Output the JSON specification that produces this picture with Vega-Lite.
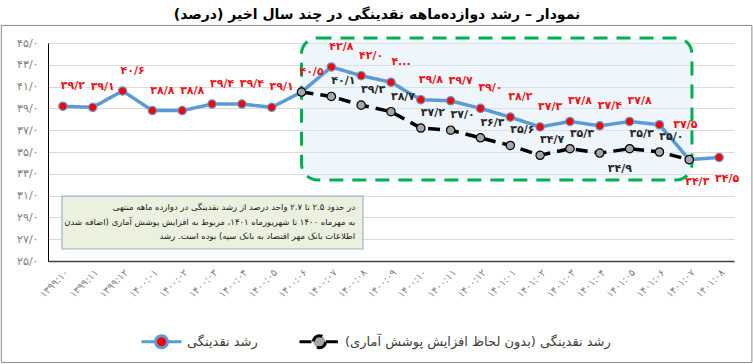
{
  "$schema": "https://vega.github.io/schema/vega-lite/v6.json",
  "width": 686,
  "height": 218,
  "autosize": "none",
  "padding": {"left": 48, "top": 43, "right": 19, "bottom": 103},
  "background": "white",
  "title": {
    "text": "نمودار – رشد دوازده‌ماهه نقدینگی در چند سال اخیر (درصد)‏",
    "font": "DejaVu Sans",
    "fontSize": 14,
    "fontWeight": "bold",
    "color": "#000000",
    "anchor": "middle",
    "frame": "group",
    "baseline": "bottom",
    "offset": 5,
    "dx": -14,
    "dy": 16
  },
  "config": {
    "view": {"stroke": null},
    "font": "DejaVu Sans",
    "axis": {"labelFont": "DejaVu Sans", "titleFont": "DejaVu Sans", "labelOverlap": false, "labelFlush": false},
    "legend": {"labelFont": "DejaVu Sans", "padding": 0}
  },
  "data": {
    "values": [
      {"m": 1, "s": "رشد نقدینگی", "v": 39.2, "t": "۳۹/۲"},
      {"m": 2, "s": "رشد نقدینگی", "v": 39.1, "t": "۳۹/۱"},
      {"m": 3, "s": "رشد نقدینگی", "v": 40.6, "t": "۴۰/۶"},
      {"m": 4, "s": "رشد نقدینگی", "v": 38.8, "t": "۳۸/۸"},
      {"m": 5, "s": "رشد نقدینگی", "v": 38.8, "t": "۳۸/۸"},
      {"m": 6, "s": "رشد نقدینگی", "v": 39.4, "t": "۳۹/۴"},
      {"m": 7, "s": "رشد نقدینگی", "v": 39.4, "t": "۳۹/۴"},
      {"m": 8, "s": "رشد نقدینگی", "v": 39.1, "t": "۳۹/۱"},
      {"m": 9, "s": "رشد نقدینگی", "v": 40.5, "t": "۴۰/۵"},
      {"m": 10, "s": "رشد نقدینگی", "v": 42.8, "t": "۴۲/۸"},
      {"m": 11, "s": "رشد نقدینگی", "v": 42.0, "t": "۴۲/۰"},
      {"m": 12, "s": "رشد نقدینگی", "v": 41.4, "t": "۴..."},
      {"m": 13, "s": "رشد نقدینگی", "v": 39.8, "t": "۳۹/۸"},
      {"m": 14, "s": "رشد نقدینگی", "v": 39.7, "t": "۳۹/۷"},
      {"m": 15, "s": "رشد نقدینگی", "v": 39.0, "t": "۳۹/۰"},
      {"m": 16, "s": "رشد نقدینگی", "v": 38.2, "t": "۳۸/۲"},
      {"m": 17, "s": "رشد نقدینگی", "v": 37.3, "t": "۳۷/۳"},
      {"m": 18, "s": "رشد نقدینگی", "v": 37.8, "t": "۳۷/۸"},
      {"m": 19, "s": "رشد نقدینگی", "v": 37.4, "t": "۳۷/۴"},
      {"m": 20, "s": "رشد نقدینگی", "v": 37.8, "t": "۳۷/۸"},
      {"m": 21, "s": "رشد نقدینگی", "v": 37.5, "t": "۳۷/۵"},
      {"m": 22, "s": "رشد نقدینگی", "v": 34.3, "t": "۳۴/۳"},
      {"m": 23, "s": "رشد نقدینگی", "v": 34.5, "t": "۳۴/۵"},
      {"m": 9, "s": "رشد نقدینگی (بدون لحاظ افزایش پوشش آماری)", "v": 40.5, "t": ""},
      {"m": 10, "s": "رشد نقدینگی (بدون لحاظ افزایش پوشش آماری)", "v": 40.1, "t": "۴۰/۱"},
      {"m": 11, "s": "رشد نقدینگی (بدون لحاظ افزایش پوشش آماری)", "v": 39.3, "t": "۳۹/۳"},
      {"m": 12, "s": "رشد نقدینگی (بدون لحاظ افزایش پوشش آماری)", "v": 38.7, "t": "۳۸/۷"},
      {"m": 13, "s": "رشد نقدینگی (بدون لحاظ افزایش پوشش آماری)", "v": 37.2, "t": "۳۷/۲"},
      {"m": 14, "s": "رشد نقدینگی (بدون لحاظ افزایش پوشش آماری)", "v": 37.0, "t": "۳۷/۰"},
      {"m": 15, "s": "رشد نقدینگی (بدون لحاظ افزایش پوشش آماری)", "v": 36.3, "t": "۳۶/۳"},
      {"m": 16, "s": "رشد نقدینگی (بدون لحاظ افزایش پوشش آماری)", "v": 35.6, "t": "۳۵/۶"},
      {"m": 17, "s": "رشد نقدینگی (بدون لحاظ افزایش پوشش آماری)", "v": 34.7, "t": "۳۴/۷"},
      {"m": 18, "s": "رشد نقدینگی (بدون لحاظ افزایش پوشش آماری)", "v": 35.3, "t": "۳۵/۳"},
      {"m": 19, "s": "رشد نقدینگی (بدون لحاظ افزایش پوشش آماری)", "v": 34.9, "t": "۳۴/۹"},
      {"m": 20, "s": "رشد نقدینگی (بدون لحاظ افزایش پوشش آماری)", "v": 35.3, "t": "۳۵/۳"},
      {"m": 21, "s": "رشد نقدینگی (بدون لحاظ افزایش پوشش آماری)", "v": 35.0, "t": "۳۵/۰"},
      {"m": 22, "s": "رشد نقدینگی (بدون لحاظ افزایش پوشش آماری)", "v": 34.3, "t": ""}
    ]
  },
  "layer": [
    {
      "data": {"values": [{}]},
      "mark": {"type": "rect", "fill": null, "stroke": "#8c8c8c", "strokeWidth": 1},
      "encoding": {
        "x": {"datum": -1.064, "type": "quantitative", "scale": {"domain": [0.5, 23.5], "nice": false, "zero": false}},
        "x2": {"datum": 24.1},
        "y": {"datum": 46.61, "type": "quantitative", "scale": {"domain": [25, 45], "nice": false, "zero": false}},
        "y2": {"datum": 15.69}
      }
    },
    {
      "data": {"values": [{}]},
      "mark": {"type": "rect", "fill": "#DCEAF7", "fillOpacity": 0.45, "stroke": "#00B050", "strokeWidth": 3, "strokeDash": [14, 9], "cornerRadius": 16},
      "encoding": {
        "x": {"datum": 9.0, "type": "quantitative"},
        "x2": {"datum": 22.09},
        "y": {"datum": 45.46, "type": "quantitative"},
        "y2": {"datum": 32.43}
      }
    },
    {
      "data": {"values": [{}]},
      "mark": {"type": "rect", "fill": "#EBF1DE", "stroke": "#9FB2C4", "strokeWidth": 1.2},
      "encoding": {
        "x": {"datum": 0.97, "type": "quantitative"},
        "x2": {"datum": 11.06},
        "y": {"datum": 30.96, "type": "quantitative"},
        "y2": {"datum": 26.1}
      }
    },
    {
      "data": {"values": [{}]},
      "mark": {"type": "text", "font": "DejaVu Sans", "fontSize": 8.5, "lineHeight": 14.5, "color": "#1a1a1a", "align": "right", "baseline": "middle"},
      "encoding": {
        "x": {"datum": 10.8, "type": "quantitative"},
        "y": {"datum": 29.95, "type": "quantitative"},
        "text": {"value": [
          "در حدود ۲.۵ تا ۲.۷ واحد درصد از رشد نقدینگی در دوازده ماهه منتهی‏",
          "به مهرماه ۱۴۰۰ تا شهریورماه ۱۴۰۱، مربوط به افزایش پوشش آماری (اضافه شدن‏",
          "اطلاعات بانک مهر اقتصاد به بانک سپه) بوده است. رشد‏"
        ]}
      }
    },
    {
      "mark": {"type": "line", "strokeWidth": 3.5},
      "encoding": {
        "x": {
          "field": "m", "type": "quantitative",
          "axis": {
            "values": [1,2,3,4,5,6,7,8,9,10,11,12,13,14,15,16,17,18,19,20,21,22,23],
            "tickCount": 23,
            "labelExpr": "['۱۳۹۹:۱۰','۱۳۹۹:۱۱','۱۳۹۹:۱۲','۱۴۰۰:۰۱','۱۴۰۰:۰۲','۱۴۰۰:۰۳','۱۴۰۰:۰۴','۱۴۰۰:۰۵','۱۴۰۰:۰۶','۱۴۰۰:۰۷','۱۴۰۰:۰۸','۱۴۰۰:۰۹','۱۴۰۰:۱۰','۱۴۰۰:۱۱','۱۴۰۰:۱۲','۱۴۰۱:۰۱','۱۴۰۱:۰۲','۱۴۰۱:۰۳','۱۴۰۱:۰۴','۱۴۰۱:۰۵','۱۴۰۱:۰۶','۱۴۰۱:۰۷','۱۴۰۱:۰۸'][round(datum.value) - 1]",
            "title": null, "grid": false, "ticks": false,
            "domainColor": "#404040", "domainWidth": 1.5,
            "labelAngle": -45, "labelAlign": "right", "labelBaseline": "top",
            "labelPadding": 6, "labelFontSize": 10, "labelColor": "#808080", "labelOverlap": false
          }
        },
        "y": {
          "field": "v", "type": "quantitative",
          "axis": {
            "values": [25,27,29,31,33,35,37,39,41,43,45],
            "tickCount": 11,
            "labelExpr": "['۲۵/۰','۲۷/۰','۲۹/۰','۳۱/۰','۳۳/۰','۳۵/۰','۳۷/۰','۳۹/۰','۴۱/۰','۴۳/۰','۴۵/۰'][round((datum.value - 25) / 2)]",
            "title": null, "ticks": false, "grid": true,
            "gridColor": "#D9D9D9", "gridWidth": 1,
            "domainColor": "#000000", "domainWidth": 1,
            "labelPadding": 10, "labelFontSize": 11, "labelColor": "#808080", "labelOverlap": false
          }
        },
        "stroke": {
          "field": "s", "type": "nominal",
          "scale": {"domain": ["رشد نقدینگی", "رشد نقدینگی (بدون لحاظ افزایش پوشش آماری)"], "range": ["#5B9BD5", "#000000"]},
          "legend": {
            "orient": "none", "legendX": 92, "legendY": 277, "direction": "horizontal", "title": null,
            "symbolType": "M-1,0L-0.32,0M0.32,0L1,0M0.3,0A0.3,0.3,0,1,1,-0.3,0A0.3,0.3,0,1,1,0.3,0Z",
            "symbolSize": 1600, "symbolStrokeWidth": 3,
            "labelFontSize": 13, "labelColor": "#404040", "labelOffset": 4, "columnPadding": 35,
            "labelExpr": "datum.label + '‏'", "labelLimit": 400
          }
        },
        "strokeDash": {
          "field": "s", "type": "nominal",
          "scale": {"domain": ["رشد نقدینگی", "رشد نقدینگی (بدون لحاظ افزایش پوشش آماری)"], "range": [[1, 0], [12, 7]]},
          "legend": {
            "orient": "none", "legendX": 92, "legendY": 277, "direction": "horizontal", "title": null,
            "symbolType": "M-1,0L-0.32,0M0.32,0L1,0M0.3,0A0.3,0.3,0,1,1,-0.3,0A0.3,0.3,0,1,1,0.3,0Z",
            "symbolSize": 1600, "symbolStrokeWidth": 3,
            "labelFontSize": 13, "labelColor": "#404040", "labelOffset": 4, "columnPadding": 35,
            "labelExpr": "datum.label + '‏'", "labelLimit": 400
          }
        }
      }
    },
    {
      "mark": {"type": "point", "filled": true, "size": 70, "strokeWidth": 1.2, "opacity": 1},
      "encoding": {
        "x": {"field": "m", "type": "quantitative"},
        "y": {"field": "v", "type": "quantitative"},
        "fill": {
          "field": "s", "type": "nominal",
          "scale": {"domain": ["رشد نقدینگی", "رشد نقدینگی (بدون لحاظ افزایش پوشش آماری)"], "range": ["#FF0000", "#A6A6A6"]},
          "legend": {
            "orient": "none", "legendX": 92, "legendY": 277, "direction": "horizontal", "title": null,
            "symbolType": "M-1,0L-0.32,0M0.32,0L1,0M0.3,0A0.3,0.3,0,1,1,-0.3,0A0.3,0.3,0,1,1,0.3,0Z",
            "symbolSize": 1600, "symbolStrokeWidth": 3,
            "labelFontSize": 13, "labelColor": "#404040", "labelOffset": 4, "columnPadding": 35,
            "labelExpr": "datum.label + '‏'", "labelLimit": 400
          }
        },
        "stroke": {"field": "s", "type": "nominal"}
      }
    },
    {
      "transform": [{"filter": {"and": [{"field": "s", "equal": "رشد نقدینگی"}, {"field": "m", "lte": 20}]}}],
      "mark": {"type": "text", "font": "DejaVu Sans", "fontSize": 11, "fontWeight": "bold", "color": "#E8141C", "dx": 10, "dy": -20, "baseline": "middle"},
      "encoding": {"x": {"field": "m", "type": "quantitative"}, "y": {"field": "v", "type": "quantitative"}, "text": {"field": "t"}}
    },
    {
      "transform": [{"filter": {"and": [{"field": "s", "equal": "رشد نقدینگی"}, {"field": "m", "equal": 21}]}}],
      "mark": {"type": "text", "font": "DejaVu Sans", "fontSize": 11, "fontWeight": "bold", "color": "#E8141C", "dx": 26, "dy": 0, "baseline": "middle"},
      "encoding": {"x": {"field": "m", "type": "quantitative"}, "y": {"field": "v", "type": "quantitative"}, "text": {"field": "t"}}
    },
    {
      "transform": [{"filter": {"and": [{"field": "s", "equal": "رشد نقدینگی"}, {"field": "m", "gte": 22}]}}],
      "mark": {"type": "text", "font": "DejaVu Sans", "fontSize": 11, "fontWeight": "bold", "color": "#E8141C", "dx": 8, "dy": 22, "baseline": "middle"},
      "encoding": {"x": {"field": "m", "type": "quantitative"}, "y": {"field": "v", "type": "quantitative"}, "text": {"field": "t"}}
    },
    {
      "transform": [{"filter": {"and": [{"field": "s", "equal": "رشد نقدینگی (بدون لحاظ افزایش پوشش آماری)"}, {"not": {"field": "m", "equal": 19}}]}}],
      "mark": {"type": "text", "font": "DejaVu Sans", "fontSize": 11, "fontWeight": "bold", "color": "#262626", "dx": 12, "dy": -15, "baseline": "middle"},
      "encoding": {"x": {"field": "m", "type": "quantitative"}, "y": {"field": "v", "type": "quantitative"}, "text": {"field": "t"}}
    },
    {
      "transform": [{"filter": {"and": [{"field": "s", "equal": "رشد نقدینگی (بدون لحاظ افزایش پوشش آماری)"}, {"field": "m", "equal": 19}]}}],
      "mark": {"type": "text", "font": "DejaVu Sans", "fontSize": 11, "fontWeight": "bold", "color": "#262626", "dx": 20, "dy": 16, "baseline": "middle"},
      "encoding": {"x": {"field": "m", "type": "quantitative"}, "y": {"field": "v", "type": "quantitative"}, "text": {"field": "t"}}
    }
  ]
}
